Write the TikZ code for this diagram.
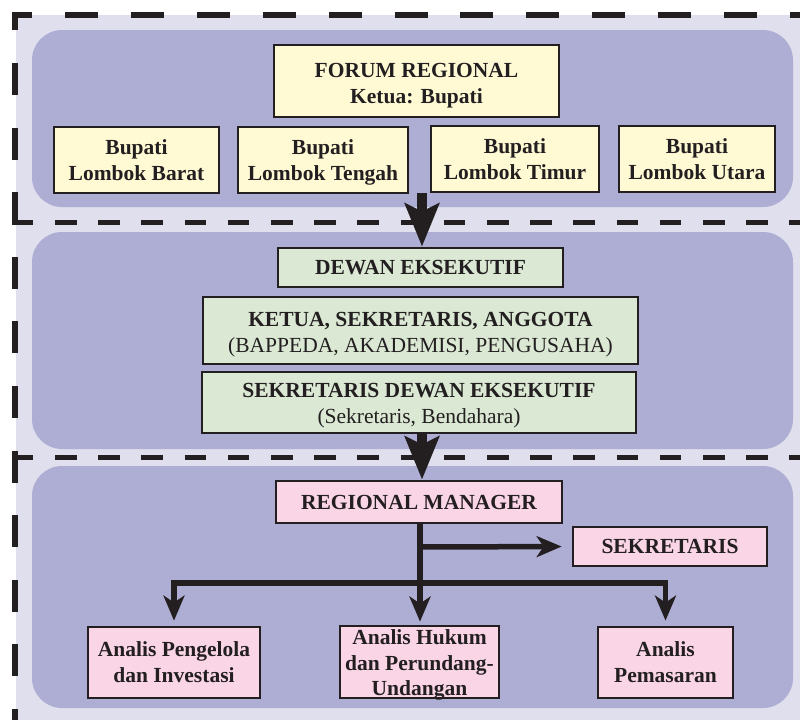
\documentclass[tikz,border=0pt]{standalone}
\usepackage{fontspec}
\setmainfont{Liberation Serif}
\usetikzlibrary{arrows.meta}
\definecolor{ink}{RGB}{35,31,32}
\definecolor{pagebg}{RGB}{223,223,237}
\definecolor{panelbg}{RGB}{174,174,212}
\definecolor{boxyellow}{RGB}{255,250,212}
\definecolor{boxgreen}{RGB}{218,232,212}
\definecolor{boxpink}{RGB}{249,213,230}
% invisible strut that raises the top of a first line, pushing the text block down
\newcommand\padtop[1]{\rule{0pt}{#1}}
\begin{document}
\begin{tikzpicture}[x=1pt, y=-1pt,
  box/.style={draw=ink, line width=2.8pt, text=ink, align=center, inner sep=0pt,
    font=\fontsize{21.5}{26}\selectfont\bfseries},
  yelbox/.style={box, fill=boxyellow},
  grnbox/.style={box, fill=boxgreen},
  pnkbox/.style={box, fill=boxpink},
  boxtext/.style={text=ink, align=center, inner sep=0pt, font=\fontsize{21.5}{25.5}\selectfont\bfseries},
  panel/.style={fill=panelbg, rounded corners=30pt},
  frameline/.style={draw=ink, line width=6.5pt},
  sepline/.style={draw=ink, line width=5pt, dash pattern=on 21.5pt off 21.7pt, dash phase=0.2pt},
  bigarrow/.style={draw=ink, line width=10pt, -{Stealth[length=43pt, width=34pt, inset=8pt]}},
  smallarrow/.style={draw=ink, line width=5.5pt, line join=miter, -{Stealth[length=25pt, width=21pt, inset=7pt]}}
]
\useasboundingbox (0,0) rectangle (800,720);
\clip (0,0) rectangle (800,720);

% background and the three rounded panels
\fill[pagebg] (16,15) rectangle (800,720);
\fill[panel] (32,30) rectangle (793,207);
\fill[panel] (32,232) rectangle (793,449);
\fill[panel] (32,466) rectangle (793,708);

% dashed frame and separators
\draw[frameline, dash pattern=on 32pt off 32.6pt, dash phase=13.6pt] (15,12) -- (15,720);
\draw[frameline, dash pattern=on 33pt off 32.9pt, dash phase=12.9pt] (12,15) -- (800,15);
\draw[sepline] (12,222) -- (800,222);
\draw[sepline] (12,457) -- (800,457);

% forum regional
\node[yelbox, minimum width=285pt, minimum height=72pt] (forum) at (416.5,81) {\padtop{24pt}FORUM REGIONAL\\Ketua: Bupati};
\node[yelbox, minimum width=165pt, minimum height=66pt] (barat) at (136.5,160) {Bupati\\Lombok Barat};
\node[yelbox, minimum width=170pt, minimum height=66pt] (tengah) at (323,160) {\padtop{19.4pt}Bupati\\Lombok Tengah};
\node[yelbox, minimum width=168pt, minimum height=66pt] (timur) at (515,159) {Bupati\\Lombok Timur};
\node[yelbox, minimum width=156pt, minimum height=66pt] (utara) at (697,159) {Bupati\\Lombok Utara};

% dewan eksekutif
\node[grnbox, minimum width=285pt, minimum height=39pt] (dewan) at (420.5,267.5) {DEWAN EKSEKUTIF};
\node[grnbox, minimum width=435pt, minimum height=67pt] (ketua) at (420.5,330.5)
  {\padtop{22pt}KETUA, SEKRETARIS, ANGGOTA\\{\mdseries (BAPPEDA, AKADEMISI, PENGUSAHA)}};
\node[grnbox, minimum width=434pt, minimum height=61pt] (sekdewan) at (419,402.5)
  {\padtop{20.5pt}SEKRETARIS DEWAN EKSEKUTIF\\{\mdseries (Sekretaris, Bendahara)}};

% regional manager
\node[pnkbox, minimum width=286pt, minimum height=42pt] (rm) at (419,502) {REGIONAL MANAGER};
\node[pnkbox, minimum width=194pt, minimum height=39pt] (sek) at (670,546.5) {SEKRETARIS};
\node[pnkbox, minimum width=172pt, minimum height=71pt] (peng) at (174,662.5) {Analis Pengelola\\dan Investasi};
% this box keeps its size; its three lines run past the lower edge
\node[pnkbox, minimum width=159pt, minimum height=72pt] (hukum) at (419.5,662) {};
\node[boxtext] (hukumtext) at (419.5,665) {Analis Hukum\\dan Perundang-\\Undangan};
\node[pnkbox, minimum width=135pt, minimum height=71pt] (pem) at (665.5,662.5) {Analis\\Pemasaran};

% connectors
\coordinate (drop) at (422,193);
\draw[bigarrow] (drop) -- (drop |- dewan.north);
\draw[bigarrow] (sekdewan.south -| drop) -- (rm.north -| drop);

\coordinate (fork) at (420,547);
\coordinate (bus) at (420,583);
\draw[smallarrow, shorten >=3pt] (rm.south -| bus) -- (hukum.north -| bus);
\draw[smallarrow, shorten >=10pt] (fork) -- (sek.west);
\draw[smallarrow, shorten >=5pt] (bus) -| (peng.north);
\draw[smallarrow, shorten >=5pt] (bus) -| (pem.north);
\end{tikzpicture}
\end{document}
